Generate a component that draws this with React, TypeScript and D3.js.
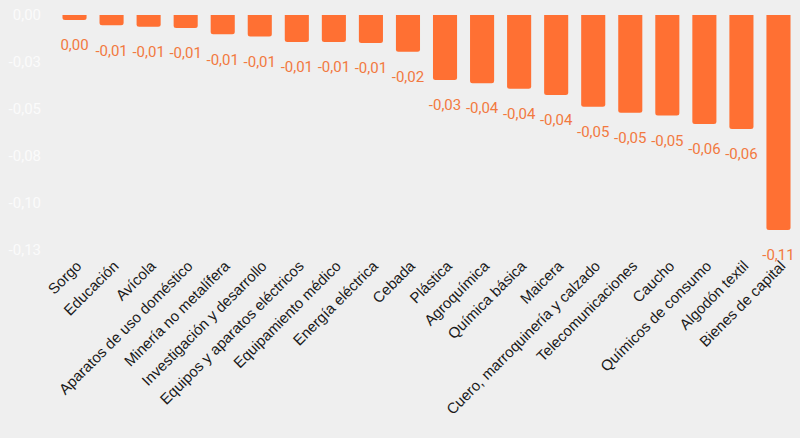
import React, { useEffect, useRef } from "react";
import * as d3 from "d3";

const categories = [
  "Sorgo",
  "Educación",
  "Avícola",
  "Aparatos de uso doméstico",
  "Minería no metalífera",
  "Investigación y desarrollo",
  "Equipos y aparatos eléctricos",
  "Equipamiento médico",
  "Energía eléctrica",
  "Cebada",
  "Plástica",
  "Agroquímica",
  "Química básica",
  "Maicera",
  "Cuero, marroquinería y calzado",
  "Telecomunicaciones",
  "Caucho",
  "Químicos de consumo",
  "Algodón textil",
  "Bienes de capital",
];

const values = [
  -0.0027, -0.0055, -0.0062, -0.0069, -0.0103, -0.0115, -0.0144, -0.0143,
  -0.0149, -0.0195, -0.0346, -0.0363, -0.0392, -0.0426, -0.0488, -0.052,
  -0.0534, -0.058, -0.0606, -0.1144,
];

const yTicks = [0, -0.025, -0.05, -0.075, -0.1, -0.125];
const yTickLabels = ["0,00", "-0,03", "-0,05", "-0,08", "-0,10", "-0,13"];

const W = 800;
const H = 438;

function fmt(v: number) {
  let r = Math.round(v * 100) / 100;
  if (r === 0) r = 0;
  return r.toFixed(2).replace(".", ",");
}

function drawChart(el: SVGSVGElement) {
  const svg = d3.select(el);
  svg.selectAll("*").remove();

  const x = d3.scaleBand().domain(categories).range([56, 797]).paddingInner(0.35).paddingOuter(0.175);
  const y = d3.scaleLinear().domain([0, -0.125]).range([15, 250]);

  svg.append("rect").attr("width", W).attr("height", H).attr("fill", "#efefef");

  // y axis tick labels (faint)
  const yAxis = svg.append("g").attr("transform", "translate(41,0)");
  yAxis
    .selectAll("text")
    .data(yTicks)
    .enter()
    .append("text")
    .attr("x", 0)
    .attr("y", (d) => y(d))
    .attr("dy", "0.35em")
    .attr("text-anchor", "end")
    .attr("font-family", "Roboto, sans-serif")
    .attr("font-size", 15)
    .attr("fill", "#fbfbfb")
    .text((d, i) => yTickLabels[i]);

  const r = 2.5;
  const bars = svg.append("g");
  categories.forEach((c, i) => {
    const x0 = x(c)!;
    const bw = x.bandwidth();
    const top = y(0);
    const bottom = y(values[i]);
    const rr = Math.min(r, (bottom - top) / 2);
    const p = d3.path();
    p.moveTo(x0, top);
    p.lineTo(x0 + bw, top);
    p.lineTo(x0 + bw, bottom - rr);
    p.quadraticCurveTo(x0 + bw, bottom, x0 + bw - rr, bottom);
    p.lineTo(x0 + rr, bottom);
    p.quadraticCurveTo(x0, bottom, x0, bottom - rr);
    p.closePath();
    bars.append("path").attr("d", p.toString()).attr("fill", "#ff7033");
  });

  // value labels
  svg
    .append("g")
    .selectAll("text")
    .data(values)
    .enter()
    .append("text")
    .attr("x", (d, i) => x(categories[i])! + x.bandwidth() / 2)
    .attr("y", (d) => y(d) + 25)
    .attr("dy", "0.35em")
    .attr("text-anchor", "middle")
    .attr("font-family", "Roboto, sans-serif")
    .attr("font-size", 15)
    .attr("fill", "#f2793f")
    .text((d) => fmt(d));

  // category labels
  svg
    .append("g")
    .selectAll("text")
    .data(categories)
    .enter()
    .append("text")
    .attr("transform", (d) => `translate(${x(d)! + x.bandwidth() / 2 + 8},${267}) rotate(-45)`)
    .attr("text-anchor", "end")
    .attr("font-family", "'Liberation Sans', Arial, sans-serif")
    .attr("font-size", 15)
    .attr("fill", "#1a1a1a")
    .text((d) => d);
}

export default function App() {
  const ref = useRef<SVGSVGElement>(null);
  useEffect(() => {
    document.body.style.margin = "0";
    document.body.style.background = "#efefef";
    if (ref.current) drawChart(ref.current);
  }, []);
  return (
    <div>
      <svg ref={ref} width={W} height={H} style={{ display: "block" }}></svg>
    </div>
  );
}
